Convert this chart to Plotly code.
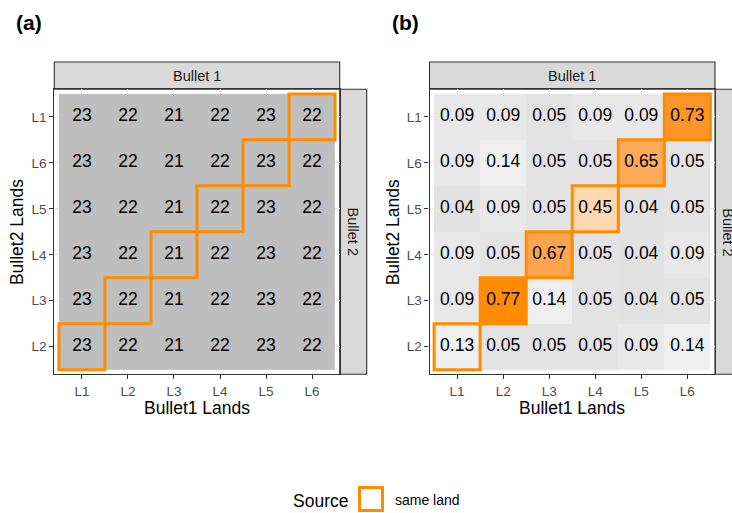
import plotly.graph_objects as go

# ---------------- data ----------------
x_lands = ["L1", "L2", "L3", "L4", "L5", "L6"]
y_lands = ["L2", "L3", "L4", "L5", "L6", "L1"]  # bottom -> top

# panel (a): counts, rows follow y_lands (bottom -> top)
counts = [
    [23, 22, 21, 22, 23, 22],  # L2
    [23, 22, 21, 22, 23, 22],  # L3
    [23, 22, 21, 22, 23, 22],  # L4
    [23, 22, 21, 22, 23, 22],  # L5
    [23, 22, 21, 22, 23, 22],  # L6
    [23, 22, 21, 22, 23, 22],  # L1
]

# panel (b): scores, rows follow y_lands (bottom -> top)
scores = [
    [0.13, 0.05, 0.05, 0.05, 0.09, 0.14],  # L2
    [0.09, 0.77, 0.14, 0.05, 0.04, 0.05],  # L3
    [0.09, 0.05, 0.67, 0.05, 0.04, 0.09],  # L4
    [0.04, 0.09, 0.05, 0.45, 0.04, 0.05],  # L5
    [0.09, 0.14, 0.05, 0.05, 0.65, 0.05],  # L6
    [0.09, 0.09, 0.05, 0.09, 0.09, 0.73],  # L1
]

# same-land pairs (bullet1 land, bullet2 land)
same_land = [("L1", "L2"), ("L2", "L3"), ("L3", "L4"), ("L4", "L5"), ("L5", "L6"), ("L6", "L1")]

ORANGE = "#ff8c00"
W, H = 732, 513
FONT = "Liberation Sans, Arial, sans-serif"

fig = go.Figure()

panels = {
    "a": dict(x0=54.3, x1=339.7, xa="x", ya="y", xaxis="xaxis", yaxis="yaxis"),
    "b": dict(x0=429.5, x1=715.0, xa="x2", ya="y2", xaxis="xaxis2", yaxis="yaxis2"),
}
top_px, bot_px = 89.3, 374.3
strip_top = 62.0
strip_w = 27.0


def px(v):
    return v / W


def py(v):
    return 1 - v / H


same_set = set(same_land)

# ---- panel (a) ----
fig.add_trace(go.Heatmap(
    x=x_lands, y=y_lands, z=counts, xaxis="x", yaxis="y",
    colorscale=[[0, "#bebebe"], [1, "#bebebe"]], showscale=False, hoverinfo="skip",
))

# ---- panel (b) ----
z_grey, z_orange = [], []
for j, yl in enumerate(y_lands):
    rg, ro = [], []
    for i, xl in enumerate(x_lands):
        v = scores[j][i]
        if (xl, yl) in same_set:
            rg.append(None); ro.append(v)
        else:
            rg.append(v); ro.append(None)
    z_grey.append(rg); z_orange.append(ro)

fig.add_trace(go.Heatmap(
    x=x_lands, y=y_lands, z=z_grey, xaxis="x2", yaxis="y2",
    zmin=0.04, zmax=0.14,
    colorscale=[[0, "#e2e2e2"], [0.5, "#e8e8e8"], [1, "#efefef"]],
    showscale=False, hoverinfo="skip",
))
fig.add_trace(go.Heatmap(
    x=x_lands, y=y_lands, z=z_orange, xaxis="x2", yaxis="y2",
    zmin=0.13, zmax=0.77,
    colorscale=[[0, "#efefef"], [0.5, "#fed8b0"], [0.8125, "#fdab58"],
                [0.84375, "#fca54c"], [0.9375, "#fd9528"], [1, ORANGE]],
    showscale=False, hoverinfo="skip",
))

# cell labels
for key, mat, fmt in (("a", counts, "{:d}"), ("b", scores, "{:.2f}")):
    p = panels[key]
    xs, ys, ts = [], [], []
    for j, yl in enumerate(y_lands):
        for i, xl in enumerate(x_lands):
            xs.append(xl); ys.append(yl); ts.append(fmt.format(mat[j][i]))
    fig.add_trace(go.Scatter(
        x=xs, y=ys, text=ts, mode="text", xaxis=p["xa"], yaxis=p["ya"],
        textfont=dict(size=17.5, color="black", family=FONT),
        hoverinfo="skip", showlegend=False,
    ))

shapes = []
annotations = []


def note(text, x, y, size, angle=0, color="black", xanchor="center"):
    annotations.append(dict(text=text, xref="paper", yref="paper", x=x, y=y,
                            xanchor=xanchor, yanchor="middle", textangle=angle,
                            showarrow=False, font=dict(size=size, color=color, family=FONT)))


# same-land outlines
for key in ("a", "b"):
    p = panels[key]
    for xl, yl in same_land:
        i = x_lands.index(xl)
        j = y_lands.index(yl)
        shapes.append(dict(
            type="rect", xref=p["xa"], yref=p["ya"],
            x0=i - 0.5, x1=i + 0.5, y0=j - 0.5, y1=j + 0.5,
            line=dict(color=ORANGE, width=3), fillcolor="rgba(0,0,0,0)", layer="above",
        ))

axis_common = dict(
    type="category", range=[-0.6, 5.6], showgrid=True, gridcolor="#ebebeb", gridwidth=1,
    showline=True, mirror=True, linecolor="#333333", linewidth=1.1,
    ticks="outside", ticklen=4, tickwidth=1, tickcolor="#333333",
    tickfont=dict(size=13.5, color="#4d4d4d", family=FONT), zeroline=False, fixedrange=True,
)

layout_axes = {}
for key in ("a", "b"):
    p = panels[key]
    layout_axes[p["xaxis"]] = dict(axis_common, domain=[px(p["x0"]), px(p["x1"])],
                                   anchor=p["ya"], categoryorder="array", categoryarray=x_lands)
    layout_axes[p["yaxis"]] = dict(axis_common, domain=[py(bot_px), py(top_px)],
                                   anchor=p["xa"], categoryorder="array", categoryarray=y_lands)

    # top strip
    shapes.append(dict(type="rect", xref="paper", yref="paper",
                       x0=px(p["x0"]), x1=px(p["x1"]), y0=py(top_px), y1=py(strip_top),
                       fillcolor="#d9d9d9", line=dict(color="#333333", width=1.1), layer="below"))
    note("Bullet 1", px((p["x0"] + p["x1"]) / 2), py((strip_top + top_px) / 2), 14.5, color="#1a1a1a")
    # right strip
    shapes.append(dict(type="rect", xref="paper", yref="paper",
                       x0=px(p["x1"]), x1=px(p["x1"] + strip_w), y0=py(bot_px), y1=py(top_px),
                       fillcolor="#d9d9d9", line=dict(color="#333333", width=1.1), layer="below"))
    note("Bullet 2", px(p["x1"] + strip_w / 2), py((top_px + bot_px) / 2), 14.5, angle=90, color="#1a1a1a")
    # axis titles
    note("Bullet1 Lands", px((p["x0"] + p["x1"]) / 2), py(408), 17.5)
    note("Bullet2 Lands", px(p["x0"] - 37), py((top_px + bot_px) / 2), 17.5, angle=-90)

# panel tags
note("<b>(a)</b>", px(28.5), py(22), 21)
note("<b>(b)</b>", px(405), py(22), 21)

# legend
note("Source", px(320.5), py(500.5), 17.5)
shapes.append(dict(type="rect", xref="paper", yref="paper",
                   x0=px(359.5), x1=px(382.5), y0=py(510.5), y1=py(487.5),
                   fillcolor="white", line=dict(color=ORANGE, width=3)))
note("same land", px(393), py(500), 14, xanchor="left")

fig.update_layout(
    width=W, height=H, margin=dict(l=0, r=0, t=0, b=0),
    paper_bgcolor="white", plot_bgcolor="white",
    showlegend=False, shapes=shapes, annotations=annotations,
    font=dict(family=FONT),
    **layout_axes,
)

fig.write_html("out.html")
